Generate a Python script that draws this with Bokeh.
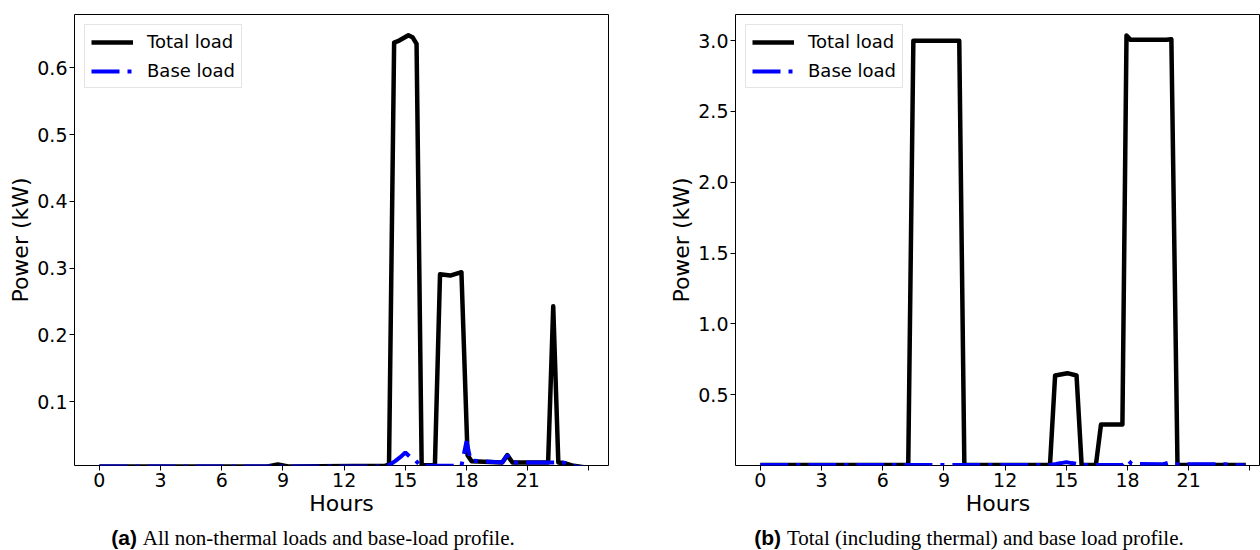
from bokeh.plotting import figure
from bokeh.layouts import column, row
from bokeh.models import Range1d, FixedTicker, Div, PrintfTickFormatter
from bokeh.embed import file_html
from bokeh.resources import INLINE

# ---- data (hours of the day, power in kW) ----
# (a) all non-thermal loads
hours_a = [0.0, 8.25, 8.75, 9.25, 14.0, 14.2, 14.45, 14.7, 15.15, 15.35, 15.55, 15.8,
           16.45, 16.7, 17.2, 17.75, 18.05, 18.25, 19.75, 20.0, 20.25, 22.0, 22.25,
           22.5, 22.8, 23.25, 23.75]
total_a = [0.003, 0.003, 0.006, 0.003, 0.004, 0.006, 0.638, 0.641, 0.649, 0.646, 0.636, 0.005,
           0.005, 0.291, 0.289, 0.294, 0.020, 0.011, 0.009, 0.020, 0.009, 0.009, 0.243,
           0.009, 0.008, 0.004, 0.002]

# (b) total load including thermal
hours_b = [0.0, 7.25, 7.5, 9.75, 10.0, 14.2, 14.45, 15.05, 15.5, 15.75, 16.45, 16.7,
           17.75, 17.95, 18.15, 19.9, 20.15, 20.45, 23.8]
total_b = [0.003, 0.003, 3.0, 3.0, 0.003, 0.004, 0.636, 0.652, 0.636, 0.004, 0.004, 0.29,
           0.29, 3.037, 3.006, 3.006, 3.01, 0.004, 0.003]

# base load profile (shared by both panels)
hours_base = [0.0, 14.0, 14.25, 14.5, 14.75, 15.0, 15.25, 15.5, 15.75, 17.75, 18.0, 18.2,
              19.75, 20.0, 20.25, 22.75, 23.0, 23.5, 23.75]
base_load = [0.003, 0.003, 0.006, 0.011, 0.017, 0.024, 0.017, 0.012, 0.004, 0.004, 0.041, 0.012,
             0.009, 0.020, 0.009, 0.009, 0.006, 0.002, 0.002]

hour_ticks = [0, 3, 6, 9, 12, 15, 18, 21, 24]
yticks_a = [0.1, 0.2, 0.3, 0.4, 0.5, 0.6]
yticks_b = [0.5, 1.0, 1.5, 2.0, 2.5, 3.0]

FONT = "DejaVu Sans"


def make_panel(width, border_left, border_right, x_end, y_range, yticks, hours, total):
    p = figure(width=width, height=522, output_backend="svg", toolbar_location=None,
               x_range=Range1d(-1.22, x_end), y_range=Range1d(*y_range),
               min_border_left=border_left, min_border_right=border_right,
               min_border_top=14, min_border_bottom=57)
    p.grid.visible = False
    p.background_fill_color = "white"
    p.outline_line_color = "black"
    p.outline_line_width = 1

    p.line(hours, total, line_color="black", line_width=4.5, line_join="round",
           legend_label="Total load")
    p.line(hours_base, base_load, line_color="blue", line_width=4, line_dash="28 8 4 8",
           legend_label="Base load")

    p.xaxis.ticker = FixedTicker(ticks=hour_ticks)
    p.xaxis.major_label_overrides = {24: ""}
    p.yaxis.ticker = FixedTicker(ticks=yticks)
    p.yaxis.formatter = PrintfTickFormatter(format="%.1f")
    p.xaxis.axis_label = "Hours"
    p.yaxis.axis_label = "Power (kW)"
    for ax in (p.xaxis, p.yaxis):
        ax.axis_line_color = None
        ax.minor_tick_line_color = None
        ax.major_tick_in = 0
        ax.major_tick_out = 5
        ax.major_tick_line_color = "black"
        ax.major_label_text_font = FONT
        ax.major_label_text_font_size = "19px"
        ax.major_label_text_color = "black"
        ax.major_label_standoff = 2
        ax.axis_label_text_font = FONT
        ax.axis_label_text_font_size = "22px"
        ax.axis_label_text_font_style = "normal"
        ax.axis_label_text_color = "black"
        ax.axis_label_standoff = 1

    lg = p.legend[0]
    lg.location = "top_left"
    lg.margin = 10
    lg.padding = 6
    lg.spacing = 8
    lg.glyph_width = 42
    lg.glyph_height = 20
    lg.label_height = 20
    lg.label_standoff = 14
    lg.label_text_font = FONT
    lg.label_text_font_size = "18px"
    lg.label_text_color = "black"
    lg.border_line_color = "#cccccc"
    lg.border_line_width = 1
    lg.background_fill_alpha = 0.85
    return p


p1 = make_panel(630, 74, 22, 24.96, (0.0045, 0.68), yticks_a, hours_a, total_a)
p2 = make_panel(630, 105, 0, 24.52, (0.0, 3.185), yticks_b, hours_b, total_b)

caption_html = (
    '<div style="position:relative;width:1260px;height:28px;font-size:21px;color:black;">'
    '<div style="position:absolute;left:13px;top:1px;width:600px;text-align:center;white-space:nowrap;">'
    '<span style="font-family:\'Liberation Sans\';font-weight:bold;">(a)</span> '
    '<span style="font-family:\'Liberation Serif\';">All non-thermal loads and base-load profile.</span>'
    '</div>'
    '<div style="position:absolute;left:669px;top:1px;width:600px;text-align:center;white-space:nowrap;">'
    '<span style="font-family:\'Liberation Sans\';font-weight:bold;">(b)</span> '
    '<span style="font-family:\'Liberation Serif\';">Total (including thermal) and base load profile.</span>'
    '</div>'
    '</div>'
)
captions = Div(text=caption_html, width=1260, height=28, margin=0)

layout = column(row(p1, p2), captions)

with open("out.html", "w") as f:
    f.write(file_html(layout, INLINE))
